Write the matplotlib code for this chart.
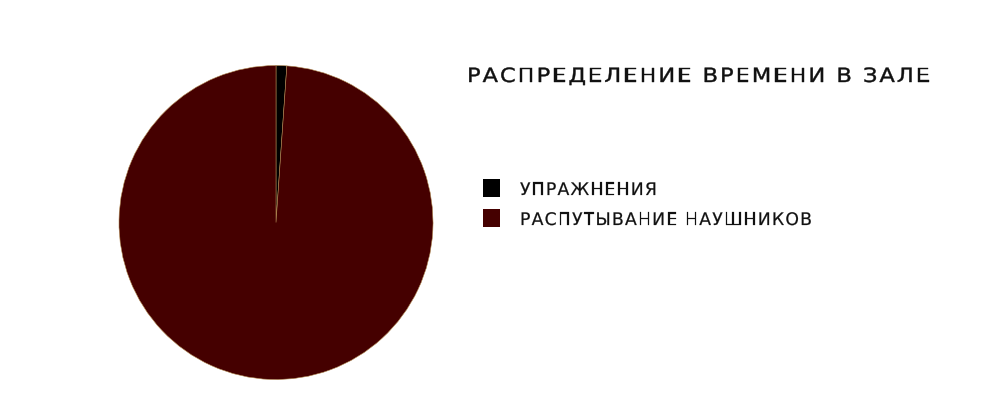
import matplotlib
matplotlib.use('Agg')
import matplotlib.pyplot as plt
from matplotlib.patches import Rectangle, PathPatch
from matplotlib.textpath import TextPath, text_to_path
from matplotlib.font_manager import FontProperties
from matplotlib.transforms import Affine2D

labels = ['УПРАЖНЕНИЯ', 'РАСПУТЫВАНИЕ НАУШНИКОВ']
values = [1.1, 98.9]
colors = ['#000000', '#450000']
title = 'РАСПРЕДЕЛЕНИЕ ВРЕМЕНИ В ЗАЛЕ'

W, H = 1000, 417
PROP = FontProperties(family='DejaVu Sans')

fig = plt.figure(figsize=(W / 100, H / 100), dpi=100)
fig.patch.set_facecolor('white')


def advances(s, size, stretch):
    out = []
    for ch in s:
        w, _, _ = text_to_path.get_text_width_height_descent(ch, PROP, False)
        out.append(w * size / PROP.get_size_in_points() * stretch)
    return out


def tracking_for(s, size, width, stretch):
    return (width - sum(advances(s, size, stretch))) / (len(s) - 1)


def spaced_text(s, x, baseline, size, tracking, stretch, lw=0.0, color='#111111'):
    # letter by letter, pixels from top-left, glyphs stretched sideways
    cx = x
    for ch, w in zip(s, advances(s, size, stretch)):
        if ch != ' ':
            path = TextPath((0, 0), ch, size=size, prop=PROP)
            tr = Affine2D().scale(stretch, 1).translate(cx, H - baseline)
            fig.add_artist(PathPatch(tr.transform_path(path), facecolor=color,
                                     edgecolor=color if lw else 'none',
                                     linewidth=lw, transform=None))
        cx += w + tracking


ax = fig.add_axes([0.119, 0.0899, 0.314, 0.753])
ax.pie(values, colors=colors, startangle=90, counterclock=False,
       radius=1, wedgeprops=dict(edgecolor='#b08850', linewidth=0.4))
ax.set_xlim(-1.0, 1.0)
ax.set_ylim(-1.0, 1.0)
ax.set_aspect('equal')
ax.axis('off')

tsize = 14.3 / 0.729
spaced_text(title, 467, 82, tsize, tracking_for(title, tsize, 930 - 467, 1.15),
            1.15, lw=0.3)

lsize = 12.6 / 0.729
ltrack = tracking_for(labels[1], lsize, 812 - 520, 1.0)
rows_y = [188, 218]
for lab, c, yy in zip(labels, colors, rows_y):
    fig.add_artist(Rectangle((483 / W, 1 - (yy + 9) / H), 17 / W, 18 / H,
                             transform=fig.transFigure, facecolor=c,
                             edgecolor='none'))
    spaced_text(lab, 520, yy + 7, lsize, ltrack, 1.0, lw=0.15)

fig.savefig('out.png', dpi=100, facecolor='white')
